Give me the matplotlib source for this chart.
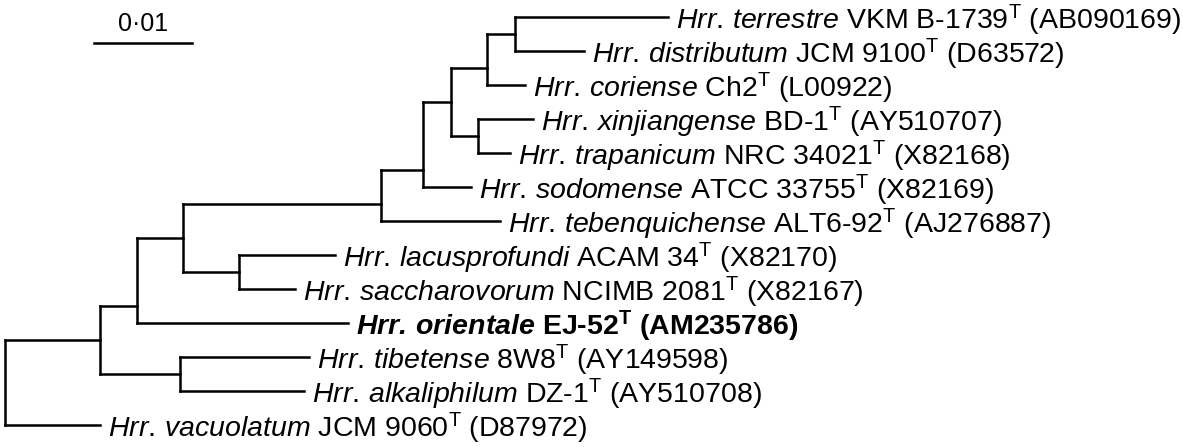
import matplotlib
matplotlib.use("Agg")
import matplotlib.pyplot as plt
from matplotlib.transforms import offset_copy

# tree topology + branch lengths (substitutions per site), upper child first
newick = ("(((((((((terrestre:0.0157,distributum:0.0071):0.0028,coriense:0.0039):0.0037,"
          "(xinjiangense:0.0056,trapanicum:0.0032):0.0028):0.0028,sodomense:0.0049):0.0043,"
          "tebenquichense:0.0121):0.0202,(lacusprofundi:0.0098,saccharovorum:0.0057):0.0057):0.0047,"
          "orientale:0.0215):0.0038,(tibetense:0.0131,alkaliphilum:0.0126):0.0082):0.0097,"
          "vacuolatum:0.0097);")

species = ["terrestre", "distributum", "coriense", "xinjiangense", "trapanicum",
           "sodomense", "tebenquichense", "lacusprofundi", "saccharovorum",
           "orientale", "tibetense", "alkaliphilum", "vacuolatum"]
strains = ["VKM B-1739", "JCM 9100", "Ch2", "BD-1", "NRC 34021", "ATCC 33755",
           "ALT6-92", "ACAM 34", "NCIMB 2081", "EJ-52", "8W8", "DZ-1", "JCM 9060"]
accessions = ["AB090169", "D63572", "L00922", "AY510707", "X82168", "X82169",
              "AJ276887", "X82170", "X82167", "AM235786", "AY149598", "AY510708", "D87972"]
highlight = "orientale"
scale_len = 0.01
scale_label = "0\u00b701"


def parse(s, i=0):
    # returns (node, next index); node = dict(name, length, children)
    node = {"name": "", "length": 0.0, "children": []}
    if s[i] == "(":
        i += 1
        while True:
            child, i = parse(s, i)
            node["children"].append(child)
            if s[i] == ",":
                i += 1
            else:
                i += 1  # ')'
                break
    j = i
    while s[i] not in ",():;":
        i += 1
    node["name"] = s[j:i]
    if s[i] == ":":
        j = i + 1
        i = j
        while s[i] not in ",();":
            i += 1
        node["length"] = float(s[j:i])
    return node, i


tree, _ = parse(newick)

rows = {}


def layout(node, x0):
    node["x"] = x0 + node["length"]
    if not node["children"]:
        node["y"] = rows.setdefault(node["name"], len(rows))
        node["first"] = node["last"] = node["y"]
        return
    for c in node["children"]:
        layout(c, node["x"])
    a, b = node["children"][0], node["children"][-1]
    node["first"], node["last"] = a["first"], b["last"]
    # stem sits halfway between the two neighbouring leaves of the children
    node["y"] = (a["last"] + b["first"]) / 2


layout(tree, 0.0)

plt.rcParams["font.family"] = "Liberation Sans"
plt.rcParams["mathtext.fontset"] = "custom"
plt.rcParams["mathtext.rm"] = "Liberation Sans"
plt.rcParams["mathtext.it"] = "Liberation Sans:italic"
plt.rcParams["mathtext.bf"] = "Liberation Sans:bold"
plt.rcParams["mathtext.bfit"] = "Liberation Sans:italic:bold"

fig = plt.figure(figsize=(11.83, 4.47), dpi=100)
ax = fig.add_axes([0, 0, 1, 1])
px = 9800.0  # pixels per substitution unit
ax.set_xlim(-5 / px, 1178 / px)
ax.set_ylim((447 - 17) / 34, -17 / 34)
ax.axis("off")

lw = 1.8
fs = 20.5
label_tr = offset_copy(ax.transData, fig=fig, x=8, y=-12, units="dots")


def draw(node):
    for c in node["children"]:
        ax.plot([node["x"], c["x"]], [c["y"], c["y"]], color="black", lw=lw,
                solid_capstyle="projecting")
        draw(c)
    if node["children"]:
        ys = [c["y"] for c in node["children"]]
        ax.plot([node["x"], node["x"]], [min(ys), max(ys)], color="black", lw=lw,
                solid_capstyle="projecting")
    else:
        k = species.index(node["name"])
        # \! cancels the extra gap mathtext puts after a full stop
        if node["name"] == highlight:
            txt = (r"$\mathbfit{Hrr.\!\ %s}$ %s$^{\mathbf{T}}$ (%s)"
                   % (species[k], strains[k], accessions[k]))
            weight = "bold"
        else:
            txt = (r"$\mathit{Hrr.\!\ %s}$ %s$^{\mathrm{T}}$ (%s)"
                   % (species[k], strains[k], accessions[k]))
            weight = "normal"
        ax.text(node["x"], node["y"], txt, transform=label_tr, fontsize=fs,
                fontweight=weight, ha="left", va="baseline")


draw(tree)

# scale bar
sx = 0.0091
sy = (43 - 17) / 34
ax.plot([sx, sx + scale_len], [sy, sy], color="black", lw=lw)
ax.text(sx + scale_len / 2, sy, scale_label, ha="center", va="baseline", fontsize=18,
        transform=offset_copy(ax.transData, fig=fig, x=0, y=12, units="dots"))

fig.savefig("out.png", dpi=100, facecolor="white")
